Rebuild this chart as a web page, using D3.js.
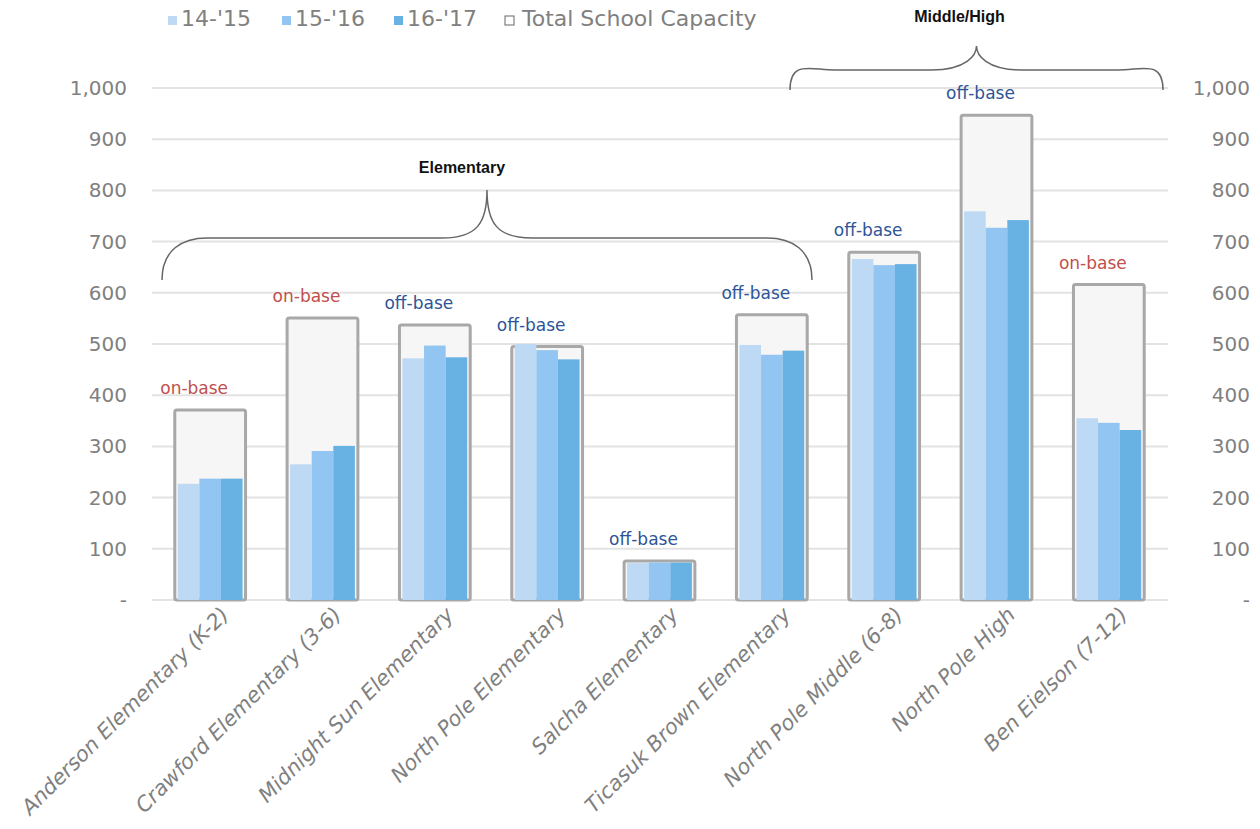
<!DOCTYPE html>
<html>
<head>
<meta charset="utf-8">
<script src="https://cdn.jsdelivr.net/npm/d3@7"></script>
<style>
  body { margin: 0; background: #fff; }
  svg { display: block; }
</style>
</head>
<body>
<script>
// chart data
var schools = ['Anderson Elementary (K-2)', 'Crawford Elementary (3-6)', 'Midnight Sun Elementary',
    'North Pole Elementary', 'Salcha Elementary', 'Ticasuk Brown Elementary',
    'North Pole Middle (6-8)', 'North Pole High', 'Ben Eielson (7-12)'];
var seriesNames = ["14-'15", "15-'16", "16-'17"];
var enroll1415 = [227, 265, 472, 500, 72, 498, 666, 759, 355];
var enroll1516 = [237, 291, 497, 488, 73, 479, 654, 727, 346];
var enroll1617 = [237, 301, 474, 470, 73, 487, 656, 742, 332];
var capacity = [371, 551, 537, 495, 76, 557, 679, 947, 616];
var baseLabel = ['on-base', 'on-base', 'off-base', 'off-base', 'off-base', 'off-base', 'off-base', 'off-base', 'on-base'];
var yTicks = [0, 100, 200, 300, 400, 500, 600, 700, 800, 900, 1000];
var groups = [
    { name: 'Elementary', first: 0, last: 5 },
    { name: 'Middle/High', first: 6, last: 8 }
];

var W = 1260, H = 829;
var colors = ['#bdd9f4', '#92c5f1', '#68b1e3'];
var gray = '#808080';
var font = '"DejaVu Sans", sans-serif';

var svg = d3.select('body').append('svg').attr('width', W).attr('height', H);

var x = d3.scaleBand().domain(schools).range([154, 1165]).padding(0);
var y = d3.scaleLinear().domain([0, 1000]).range([600, 88]);
var bw = x.bandwidth();
var boxW = bw * 0.63;
var xs = d3.scaleBand().domain(seriesNames).range([-boxW / 2 + 3, boxW / 2 - 3]).padding(0);

// gridlines
svg.append('g').selectAll('line').data(yTicks).enter().append('line')
    .attr('x1', 152).attr('x2', 1168)
    .attr('y1', function(d) { return y(d); })
    .attr('y2', function(d) { return y(d); })
    .attr('stroke', '#e3e3e3').attr('stroke-width', 2);

// axes (left and right)
var fmt = function(d) { return d === 0 ? '-' : d3.format(',')(d); };
var left = svg.append('g').attr('transform', 'translate(127,0)')
    .call(d3.axisLeft(y).tickValues(yTicks).tickFormat(fmt).tickSize(0).tickPadding(0));
var right = svg.append('g').attr('transform', 'translate(1250,0)')
    .call(d3.axisLeft(y).tickValues(yTicks).tickFormat(fmt).tickSize(0).tickPadding(0));
[left, right].forEach(function(g) {
    g.select('.domain').remove();
    g.selectAll('text')
        .attr('fill', gray)
        .style('font-family', font)
        .style('font-size', '20px');
});

// capacity boxes
svg.append('g').selectAll('rect').data(capacity).enter().append('rect')
    .attr('x', function(d, i) { return x(schools[i]) + bw / 2 - boxW / 2; })
    .attr('y', function(d) { return y(d); })
    .attr('width', boxW)
    .attr('height', function(d) { return y(0) - y(d); })
    .attr('rx', 2)
    .attr('fill', '#f6f6f6')
    .attr('stroke', '#a8a8a8')
    .attr('stroke-width', 3);

// enrollment bars
var enrollment = [enroll1415, enroll1516, enroll1617];
enrollment.forEach(function(vals, s) {
    svg.append('g').selectAll('rect').data(vals).enter().append('rect')
        .attr('x', function(d, i) { return x(schools[i]) + bw / 2 + xs(seriesNames[s]); })
        .attr('y', function(d) { return y(d); })
        .attr('width', xs.bandwidth())
        .attr('height', function(d) { return y(0) - y(d); })
        .attr('fill', colors[s]);
});

// on-base / off-base labels
svg.append('g').selectAll('text').data(capacity).enter().append('text')
    .attr('x', function(d, i) { return x(schools[i]) + bw / 2 - 16; })
    .attr('y', function(d) { return y(d) - 16; })
    .attr('text-anchor', 'middle')
    .attr('fill', function(d, i) { return baseLabel[i] === 'on-base' ? '#c0504d' : '#2e5597'; })
    .style('font-family', font)
    .style('font-size', '17px')
    .text(function(d, i) { return baseLabel[i]; });

// x labels, rotated
svg.append('g').selectAll('text').data(schools).enter().append('text')
    .attr('transform', function(d) {
        return 'translate(' + (x(d) + bw / 2 + 20) + ',616) rotate(-45)';
    })
    .attr('text-anchor', 'end')
    .attr('fill', gray)
    .style('font-family', font)
    .style('font-size', '21px')
    .style('font-style', 'oblique')
    .text(function(d) { return d; });

// braces
function bracePath(x0, x1, yEnd, yFlat, yTip) {
    var xm = (x0 + x1) / 2;
    var r = 45;
    return 'M' + x0 + ',' + yEnd +
        ' C' + x0 + ',' + (yEnd - 30) + ' ' + (x0 + 20) + ',' + yFlat + ' ' + (x0 + r) + ',' + yFlat +
        ' L' + (xm - r) + ',' + yFlat +
        ' C' + (xm - 10) + ',' + yFlat + ' ' + xm + ',' + (yFlat - 15) + ' ' + xm + ',' + yTip +
        ' C' + xm + ',' + (yFlat - 15) + ' ' + (xm + 10) + ',' + yFlat + ' ' + (xm + r) + ',' + yFlat +
        ' L' + (x1 - r) + ',' + yFlat +
        ' C' + (x1 - 20) + ',' + yFlat + ' ' + x1 + ',' + (yEnd - 30) + ' ' + x1 + ',' + yEnd;
}
var braceGeo = [
    { x0: x(schools[0]) + 8, x1: x(schools[5]) + bw - 16, yEnd: 280, yFlat: 238, yTip: 190, ly: 173, lx: -25 },
    { x0: x(schools[6]) - 38, x1: x(schools[8]) + bw - 2, yEnd: 90, yFlat: 70, yTip: 46, ly: 22, lx: -17 }
];
groups.forEach(function(g, i) {
    var b = braceGeo[i];
    svg.append('path')
        .attr('d', bracePath(b.x0, b.x1, b.yEnd, b.yFlat, b.yTip))
        .attr('fill', 'none')
        .attr('stroke', '#666')
        .attr('stroke-width', 1.5);
    svg.append('text')
        .attr('x', (b.x0 + b.x1) / 2 + b.lx)
        .attr('y', b.ly)
        .attr('text-anchor', 'middle')
        .attr('fill', '#111')
        .style('font-family', '"Liberation Sans", Arial, sans-serif')
        .style('font-size', '16px')
        .style('font-weight', 'bold')
        .text(g.name);
});

// legend
var legendItems = seriesNames.concat(['Total School Capacity']);
var legendX = [168, 282, 394, 505];
var lg = svg.append('g').selectAll('g').data(legendItems).enter().append('g')
    .attr('transform', function(d, i) { return 'translate(' + legendX[i] + ',10)'; });
lg.append('rect')
    .attr('x', 0).attr('y', 6)
    .attr('width', 9).attr('height', 9)
    .attr('fill', function(d, i) { return i < 3 ? colors[i] : '#fff'; })
    .attr('stroke', function(d, i) { return i < 3 ? 'none' : '#666'; })
    .attr('stroke-width', 1);
lg.append('text')
    .attr('x', function(d, i) { return i < 3 ? 13 : 17; })
    .attr('y', 16)
    .attr('fill', gray)
    .style('font-family', font)
    .style('font-size', '22px')
    .text(function(d) { return d; });
</script>
</body>
</html>
